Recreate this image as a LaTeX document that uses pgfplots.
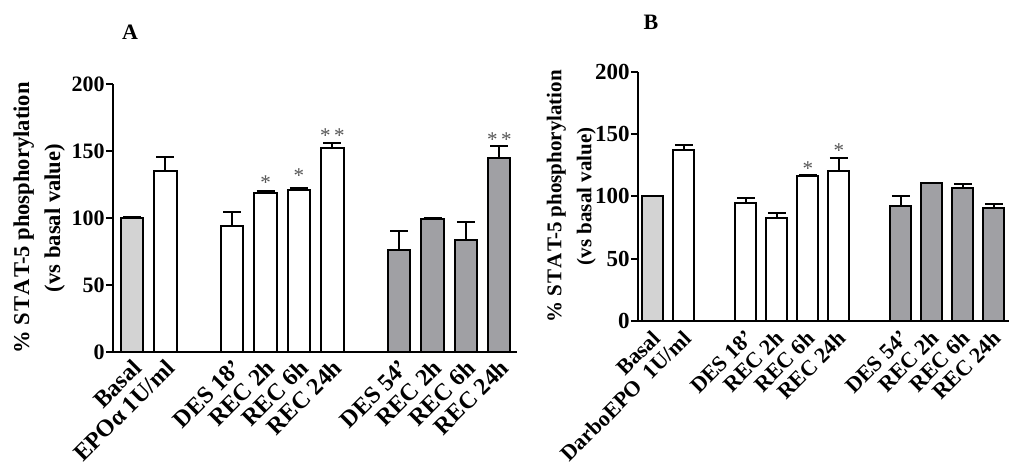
\documentclass[border=0pt]{standalone}
\usepackage{pgfplots}
\pgfplotsset{compat=1.18}
\usepackage{pgfplotstable}
\usepackage{fontspec}
\setmainfont{Liberation Serif}
\definecolor{lgray}{RGB}{211,211,211}
\definecolor{dgray}{RGB}{160,160,164}
\definecolor{stargray}{RGB}{85,85,85}

\pgfplotstableread{
x y e
0 100 0.8
}\Abasal
\pgfplotstableread{
x y e
1 135 10.5
3 94 10.5
4 119 1
5 121 1.5
6 152 4
}\Awhite
\pgfplotstableread{
x y e
8 76 14
9 99 1
10 83.5 13.5
11 144.5 9
}\Agray
\pgfplotstableread{
x y e
0 100 0.5
}\Bbasal
\pgfplotstableread{
x y e
1 137 4.5
3 95 4
4 83 4
5 116 1.5
6 120 10.5
}\Bwhite
\pgfplotstableread{
x y e
8 92 8
9 111 0
10 107 3
11 90.5 3
}\Bgray

\tikzset{sigstar/.style={font=\fontsize{10.5}{12}\selectfont, text=stargray, inner sep=0pt}}
\pgfplotsset{
  panel/.style={
    scale only axis,
    axis lines*=left,
    axis line style={line width=1pt, black},
    ymin=0, ymax=200,
    ytick={0,50,100,150,200},
    xtick={0,1,3,4,5,6,8,9,10,11},
    tick align=outside,
    major tick length=3.5pt,
    ytick style={line width=1pt, black},
    xtick style={draw=none},
    /pgf/number format/assume math mode=true,
    yticklabel style={inner sep=0.5pt},
    xticklabel style={rotate=45, anchor=east, inner sep=1pt},
    every axis y label/.style={rotate=90, anchor=center, align=center},
    clip=false,
  },
  bars/.style={ybar, bar width=0.67, draw=black, line width=1pt,
    error bars/y dir=plus, error bars/y explicit,
    error bars/error bar style={line width=1pt, black},
    error bars/error mark options={rotate=90, mark size=4.5pt, line width=1pt, black}},
}

\begin{document}
\begin{tikzpicture}
\useasboundingbox (0,0) rectangle (512pt,237pt);
\node[font=\bfseries\fontsize{11}{13}\selectfont] at (65pt,221pt) {A};
\node[font=\bfseries\fontsize{11}{13}\selectfont] at (325.5pt,226pt) {B};

\begin{axis}[panel, at={(56.5pt,61pt)}, anchor=south west, width=202pt, height=134pt,
  xmin=-0.57, xmax=11.53,
  yticklabel style={font=\bfseries\fontsize{11}{12}\selectfont},
  xticklabel style={font=\bfseries\fontsize{12}{14}\selectfont, xshift=1.2pt, yshift=-3.5pt},
  xticklabels={Basal, EPOα 1U/ml, DES 18’, REC 2h, REC 6h, REC 24h, DES 54’, REC 2h, REC 6h, REC 24h},
  ylabel={\% S\kern0.6pt T\kern0.6pt A\kern0.6pt T-5 phosphorylation\\(vs basal value)},
  every axis y label/.append style={at={(axis description cs:-0.183,0.5)}, font=\bfseries\fontsize{11.3}{15.5}\selectfont}]
\addplot[bars, fill=lgray] table[x=x, y=y, y error=e] {\Abasal};
\addplot[bars, fill=white] table[x=x, y=y, y error=e] {\Awhite};
\addplot[bars, fill=dgray] table[x=x, y=y, y error=e] {\Agray};
\node[sigstar] at (axis cs:4,126.5) {*};
\node[sigstar] at (axis cs:5,131.5) {*};
\node[sigstar] at (axis cs:6,161.5) {*\,*};
\node[sigstar] at (axis cs:11,158.5) {*\,*};
\end{axis}

\begin{axis}[panel, at={(319pt,76.5pt)}, anchor=south west, width=185.5pt, height=124.65pt,
  xmin=-0.48, xmax=11.49,
  yticklabel style={font=\bfseries\fontsize{11.5}{12}\selectfont},
  xticklabel style={font=\bfseries\fontsize{11}{13}\selectfont, xshift=0pt, yshift=-3.5pt},
  xticklabels={Basal, DarboEPO\ \ 1U/ml, DES 18’, REC 2h, REC 6h, REC 24h, DES 54’, REC 2h, REC 6h, REC 24h},
  ylabel={\% S\kern0.6pt T\kern0.6pt A\kern0.6pt T-5 phosphorylation\\(vs basal value)},
  every axis y label/.append style={at={(axis description cs:-0.180,0.5)}, font=\bfseries\fontsize{10.5}{15}\selectfont}]
\addplot[bars, fill=lgray] table[x=x, y=y, y error=e] {\Bbasal};
\addplot[bars, fill=white] table[x=x, y=y, y error=e] {\Bwhite};
\addplot[bars, fill=dgray] table[x=x, y=y, y error=e] {\Bgray};
\node[sigstar] at (axis cs:5,122.5) {*};
\node[sigstar] at (axis cs:6,137) {*};
\end{axis}
\end{tikzpicture}
\end{document}
